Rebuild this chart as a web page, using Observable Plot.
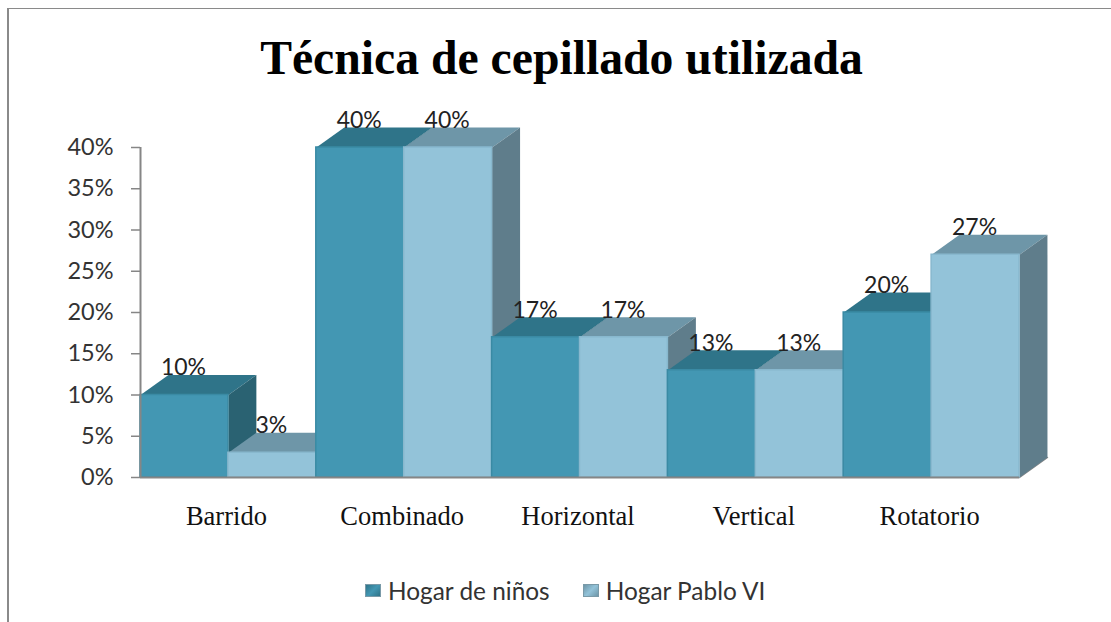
<!DOCTYPE html>
<html lang="es">
<head>
<meta charset="utf-8">
<script src="https://cdn.jsdelivr.net/npm/d3@7"></script>
<script src="https://cdn.jsdelivr.net/npm/@observablehq/plot@0.6"></script>
<style>
html,body{margin:0;padding:0;background:#fff;overflow:hidden}
#page{position:relative;width:1111px;height:622px;overflow:hidden}
#frame{position:absolute;left:7px;top:8px;width:1200px;height:700px;border:2px solid #8a8a8a;border-top-width:1.5px;box-sizing:border-box;pointer-events:none}
#title{height:100px;padding-top:8px;box-sizing:border-box;text-align:center;margin-left:12px;font:bold 47.7px/100px "Liberation Serif",serif;color:#000}
#chart{height:440px}
#chart svg{display:block}
#legend{display:flex;font:24.4px "Lato",sans-serif;color:#333;position:absolute;top:576px;left:365px}
.item{display:flex;align-items:center;margin-right:33px}
.sw{width:16px;height:13px;margin-right:7px;border:1px solid #7a9aa8;box-sizing:border-box}
</style>
</head>
<body>
<div id="page">
  <div id="frame"></div>
  <div id="title">Técnica de cepillado utilizada</div>
  <div id="chart"></div>
  <div id="legend"></div>
</div>
<script>
const categories = ["Barrido", "Combinado", "Horizontal", "Vertical", "Rotatorio"];
const seriesNames = ["Hogar de niños", "Hogar Pablo VI"];
const hogarNinos = [10, 40, 17, 13, 20];
const hogarPablo = [3, 40, 17, 13, 27];
const yTicks = [0, 5, 10, 15, 20, 25, 30, 35, 40];

const palette = [
  {front: "#4397B3", top: "#2F7489", side: "#2A6272", edge: "#3A8AA4"},
  {front: "#93C3D9", top: "#6E96A8", side: "#5F7D8B", edge: "#88B8CE"}
];
const depthX = 28 / 176, depthY = 20 / 8.25;

const bars = categories.flatMap((c, i) => [hogarNinos[i], hogarPablo[i]].map((v, j) => ({
  category: c, series: j, value: v, x1: i + j / 2, x2: i + (j + 1) / 2
})));

const poly = pts => pts.map(([x, y]) => ({x, y}));
const faces = b => {
  const c = palette[b.series];
  return [
    Plot.line(poly([[b.x1, b.value], [b.x1 + depthX, b.value + depthY], [b.x2 + depthX, b.value + depthY], [b.x2, b.value], [b.x1, b.value]]),
      {x: "x", y: "y", fill: c.top, stroke: null}),
    Plot.line(poly([[b.x2, 0], [b.x2, b.value], [b.x2 + depthX, b.value + depthY], [b.x2 + depthX, depthY], [b.x2, 0]]),
      {x: "x", y: "y", fill: c.side, stroke: null}),
    Plot.rect([b], {x1: "x1", x2: "x2", y1: 0, y2: "value", fill: c.front, stroke: c.edge, strokeWidth: 1.5})
  ];
};

const plot = Plot.plot({
  width: 1111, height: 440,
  marginLeft: 140, marginRight: 92, marginTop: 47, marginBottom: 63,
  style: {background: "transparent"},
  x: {domain: [0, 5], label: null},
  y: {domain: [0, 40], label: null},
  marks: [
    Plot.line(poly([[5, 0], [5 + depthX, depthY]]), {x: "x", y: "y", stroke: "#888", strokeWidth: 1.5}),
    ...bars.flatMap(faces),
    Plot.ruleX([0], {y1: 0, y2: 40, stroke: "#868686", strokeWidth: 2}),
    Plot.ruleY([0], {x1: 0, x2: 5, stroke: "#868686", strokeWidth: 2}),
    Plot.text(bars, {
      x: d => (d.x1 + d.x2) / 2, y: "value", text: d => d.value + "%", dy: -27, dx: -1,
      fontSize: 23, fontFamily: "Lato, sans-serif", fill: "#222"
    }),
    Plot.axisY({
      ticks: yTicks, tickFormat: d => d + "%", tickSize: 9, tickPadding: 18,
      stroke: "#868686", strokeWidth: 1.5, fill: "#333", fontSize: 23.5, fontFamily: "Lato, sans-serif", label: null
    }),
    Plot.axisX({
      ticks: categories.map((c, i) => i + 0.5), tickFormat: d => categories[d - 0.5],
      tickSize: 0, tickPadding: 29, dx: -2, fill: "#111", fontSize: 26.5,
      fontFamily: "Liberation Serif, serif", label: null
    })
  ]
});
document.getElementById("chart").append(plot);

const legend = document.getElementById("legend");
seriesNames.forEach((n, i) => {
  const it = document.createElement("div"); it.className = "item";
  const sw = document.createElement("span"); sw.className = "sw";
  sw.style.background = `linear-gradient(135deg, ${palette[i].top}, ${palette[i].front} 50%, ${palette[i].top})`;
  const t = document.createElement("span"); t.textContent = n;
  it.append(sw, t); legend.append(it);
});
</script>
</body>
</html>
